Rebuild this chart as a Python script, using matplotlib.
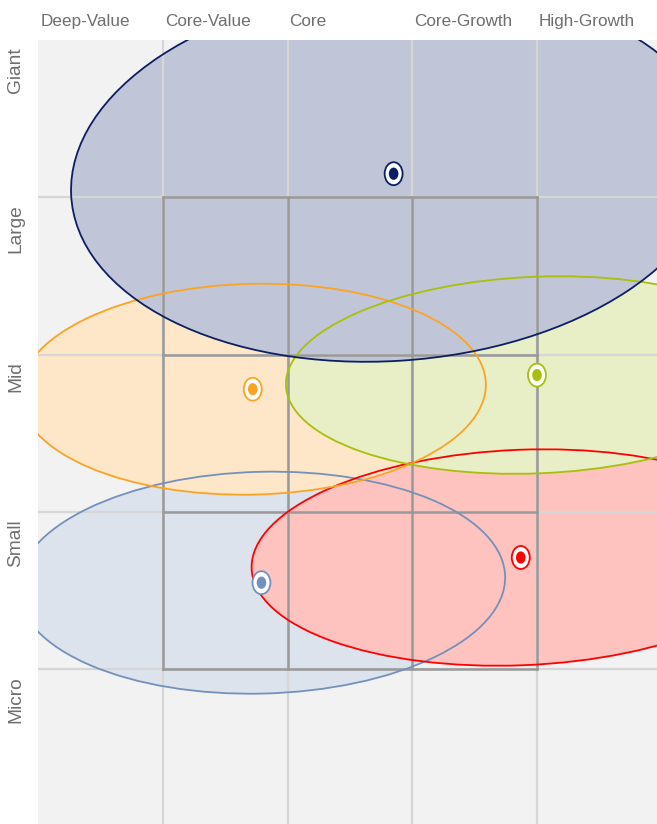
import matplotlib.pyplot as plt
from matplotlib.patches import Ellipse

# style columns / size rows
styles = ["Deep-Value", "Core-Value", "Core", "Core-Growth", "High-Growth"]
sizes = ["Giant", "Large", "Mid", "Small", "Micro"]

# ownership zones: centroid, zone width/height and tilt (style-box units)
zone_names = ["Small Value", "Small Growth", "Mid Value", "Mid Growth", "Large"]
zone_x = [1.79, 3.87, 1.72, 4.00, 2.85]
zone_y = [1.55, 1.71, 2.78, 2.87, 4.15]
zone_w = [3.91, 4.32, 3.74, 4.03, 5.18]
zone_h = [1.41, 1.37, 1.34, 1.25, 2.38]
zone_tilt = [1.1, 1.8, 1.0, 1.8, 2.9]
zone_edge = ["#7391bb", "#ff0000", "#fba325", "#a8bf0c", "#0b1f62"]
zone_fill = ["#dce3ed", "#fec3bf", "#fde7c8", "#e8eec5", "#c0c6d7"]

fig = plt.figure(figsize=(6.57, 8.24), dpi=100)
ax = fig.add_axes([38.3 / 657, 0, (657 - 38.3) / 657, 784 / 824])
ax.set_xlim(0, (657 - 38.3) / 124.67)
ax.set_ylim(2.5 / 157.3, 5)
ax.set_facecolor("#f2f2f2")
for s in ax.spines.values():
    s.set_visible(False)
ax.set_xticks([])
ax.set_yticks([])

# filled zones
for i in range(len(zone_names)):
    ax.add_patch(Ellipse((zone_x[i], zone_y[i]), zone_w[i], zone_h[i], angle=zone_tilt[i],
                         facecolor=zone_fill[i], edgecolor="none", zorder=1))

# light grid over the whole box
for k in range(1, 5):
    ax.axvline(k, color="#d6d6d6", lw=1.6, zorder=2)
    ax.axhline(k, color="#d6d6d6", lw=1.6, zorder=2)

# the 3x3 core box
for k in range(1, 5):
    ax.plot([k, k], [1, 4], color="#999999", lw=1.8, zorder=3, solid_capstyle="projecting")
    ax.plot([1, 4], [k, k], color="#999999", lw=1.8, zorder=3, solid_capstyle="projecting")

# zone outlines
for i in range(len(zone_names)):
    ax.add_patch(Ellipse((zone_x[i], zone_y[i]), zone_w[i], zone_h[i], angle=zone_tilt[i],
                         facecolor="none", edgecolor=zone_edge[i], lw=1.3, zorder=4))

# centroid markers
for i in range(len(zone_names)):
    ax.add_patch(Ellipse((zone_x[i], zone_y[i]), 0.144, 0.146,
                         facecolor="white", edgecolor=zone_edge[i], lw=1.3, zorder=5))
    ax.add_patch(Ellipse((zone_x[i], zone_y[i]), 0.077, 0.078,
                         facecolor=zone_edge[i], edgecolor="none", zorder=6))

for j, lab in enumerate(styles):
    ax.text(j + 0.015, 5.115, lab, ha="left", va="center", fontsize=12.3,
            color="#6e6e6e", family="Liberation Sans")

for j, lab in enumerate(sizes):
    ax.text(-0.18, 5 - j - 0.045, lab, ha="right", va="center", rotation=90,
            rotation_mode="anchor", fontsize=13.8, color="#6e6e6e", family="Liberation Sans")

fig.savefig("out.png", dpi=100)
